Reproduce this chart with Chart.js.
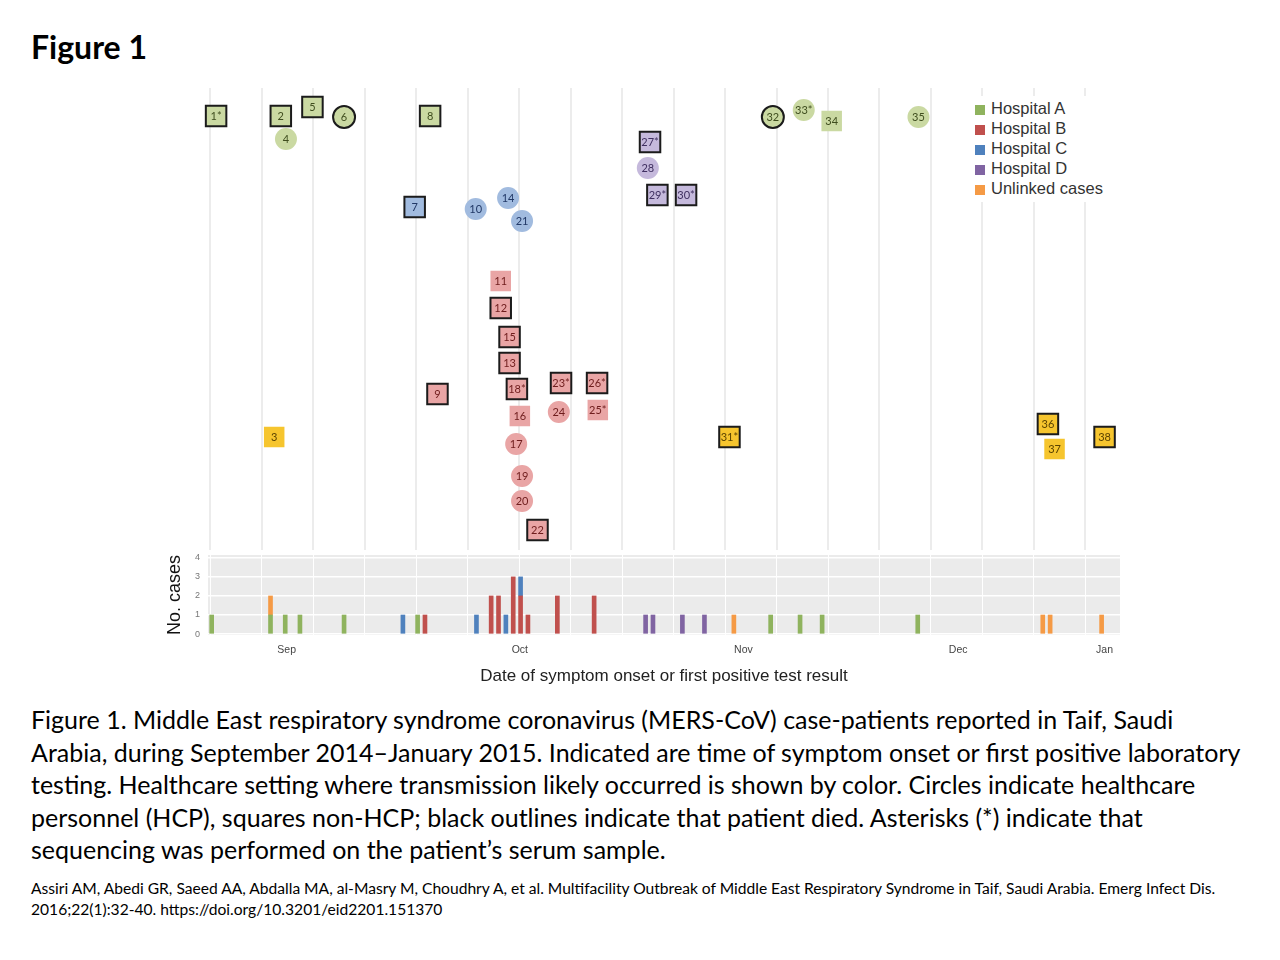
<!DOCTYPE html>
<html>
<head>
<meta charset="utf-8">
<title>Figure 1</title>
<script src="https://cdn.jsdelivr.net/npm/chart.js@4.4.0/dist/chart.umd.min.js"></script>
<style>
  body { margin: 0; width: 1280px; height: 960px; background: #fff; position: relative; overflow: hidden; font-family: Lato, sans-serif; color: #000; }
  #title { position: absolute; left: 31px; top: 27px; font-size: 32px; font-weight: bold; line-height: 40px; }
  #top { position: absolute; left: 150px; top: 88px; }
  #bottom { position: absolute; left: 150px; top: 552px; }
  #legend { position: absolute; left: 966px; top: 96px; background: #fff; padding: 2px 12px 4px 9px; font-family: "Liberation Sans", Arial, sans-serif; font-size: 16.5px; color: #333; }
  #legend div { height: 20px; line-height: 20px; white-space: nowrap; }
  #legend span { display: inline-block; width: 10px; height: 10px; margin-right: 6px; vertical-align: -1px; }
  #caption { position: absolute; left: 31px; top: 703px; font-size: 25px; line-height: 32.6px; white-space: nowrap; }
  #cite { position: absolute; left: 31px; top: 878px; font-size: 15.6px; line-height: 21px; white-space: nowrap; }
</style>
</head>
<body>
<div id="title">Figure 1</div>
<canvas id="top" width="980" height="462"></canvas>
<canvas id="bottom" width="980" height="140"></canvas>
<div id="legend"></div>
<div id="caption">Figure 1. Middle East respiratory syndrome coronavirus (MERS-CoV) case-patients reported in Taif, Saudi<br>Arabia, during September 2014–January 2015. Indicated are time of symptom onset or first positive laboratory<br>testing. Healthcare setting where transmission likely occurred is shown by color. Circles indicate healthcare<br>personnel (HCP), squares non-HCP; black outlines indicate that patient died. Asterisks (*) indicate that<br>sequencing was performed on the patient’s serum sample.</div>
<div id="cite">Assiri AM, Abedi GR, Saeed AA, Abdalla MA, al-Masry M, Choudhry A, et al. Multifacility Outbreak of Middle East Respiratory Syndrome in Taif, Saudi Arabia. Emerg Infect Dis.<br>2016;22(1):32-40. https://doi.org/10.3201/eid2201.151370</div>

<script>
// Groups (transmission setting)
const groups = ['Hospital A', 'Hospital B', 'Hospital C', 'Hospital D', 'Unlinked cases'];
const groupColors = ['#8fb35e', '#c0504d', '#4f81bd', '#8064a2', '#f59a45'];
const markerFills = ['#cad9a2', '#e9a5a5', '#a1bbdf', '#c5b9dc', '#f6c52e'];
const markerInk = ['#3f4d1e', '#6e1c1c', '#213866', '#3f2f60', '#5c4400'];

// Case-patients: x = day on the time axis, level = height in the upper panel
const caseNo    = [1, 2, 3, 4, 5, 6, 7, 8, 9, 10, 11, 12, 13, 14, 15, 16, 17, 18, 19, 20, 21, 22, 23, 24, 25, 26, 27, 28, 29, 30, 31, 32, 33, 34, 35, 36, 37, 38];
const caseGroup = [0, 0, 4, 0, 0, 0, 2, 0, 1, 2, 1, 1, 1, 2, 1, 1, 1, 1, 1, 1, 2, 1, 1, 1, 1, 1, 3, 3, 3, 3, 4, 0, 0, 0, 0, 4, 4, 4];
const caseDay   = [0.6, 9.4, 8.5, 10.1, 13.7, 18.0, 27.6, 29.7, 30.7, 35.9, 39.3, 39.3, 40.5, 40.3, 40.5, 41.9, 41.4, 41.5, 42.2, 42.2, 42.2, 44.3, 47.5, 47.2, 52.5, 52.4, 59.6, 59.3, 60.6, 64.5, 70.4, 76.3, 80.5, 84.3, 96.1, 113.7, 114.6, 121.4];
const caseLevel = [43.4, 43.4, 11.3, 41.1, 44.3, 43.3, 34.3, 43.4, 15.6, 34.1, 26.9, 24.2, 18.7, 35.2, 21.3, 13.4, 10.6, 16.1, 7.4, 4.9, 32.9, 2.0, 16.7, 13.8, 14.0, 16.7, 40.8, 38.2, 35.5, 35.5, 11.3, 43.3, 44.0, 42.9, 43.3, 12.6, 10.1, 11.3];
const caseHcp   = [0, 0, 0, 1, 0, 1, 0, 0, 0, 1, 0, 0, 0, 1, 0, 0, 1, 0, 1, 1, 1, 0, 0, 1, 0, 0, 0, 1, 0, 0, 0, 1, 1, 0, 1, 0, 0, 0];
const caseDied  = [1, 1, 0, 0, 1, 1, 1, 1, 1, 0, 0, 1, 1, 0, 1, 0, 0, 1, 0, 0, 0, 1, 1, 0, 0, 1, 1, 0, 1, 1, 1, 1, 0, 0, 0, 1, 0, 1];
const caseSeq   = [1, 0, 0, 0, 0, 0, 0, 0, 0, 0, 0, 0, 0, 0, 0, 0, 0, 1, 0, 0, 0, 0, 1, 0, 1, 1, 1, 0, 1, 1, 1, 0, 1, 0, 0, 0, 0, 0];

// Daily case counts per group
const barDays = [
    [0, 8, 10, 12, 18, 28, 76, 80, 83, 96],
    [29, 38, 39, 41, 42, 43, 47, 52],
    [26, 36, 40, 42],
    [59, 60, 64, 67],
    [8, 71, 113, 114, 121]
];
const barCounts = [
    [1, 1, 1, 1, 1, 1, 1, 1, 1, 1],
    [1, 2, 2, 3, 2, 1, 2, 2],
    [1, 1, 1, 1],
    [1, 1, 1, 1],
    [1, 1, 1, 1, 1]
];

// Axis ticks
const weekTicks = [-0.2, 6.8, 13.8, 20.8, 27.8, 34.8, 41.8, 48.8, 55.8, 62.8, 69.8, 76.8, 83.8, 90.8, 97.8, 104.8, 111.8, 118.8];
const monthTicks = [10.2, 41.9, 72.3, 101.5, 121.4];
const monthLabels = ['Sep', 'Oct', 'Nov', 'Dec', 'Jan'];
const countTicks = [0, 1, 2, 3, 4];

const xMin = -0.5, xMax = 123.5;
const axisFont = '"Liberation Sans", Arial, sans-serif';

// Legend
const legendEl = document.getElementById('legend');
groups.forEach((g, i) => {
    const row = document.createElement('div');
    row.innerHTML = '<span style="background:' + groupColors[i] + '"></span>' + g;
    legendEl.appendChild(row);
});

// Labels inside the case markers
const caseLabels = {
    id: 'caseLabels',
    afterDatasetsDraw(chart) {
        const ctx = chart.ctx;
        ctx.save();
        ctx.font = '11px Lato, sans-serif';
        ctx.textAlign = 'center';
        ctx.textBaseline = 'middle';
        chart.data.datasets.forEach((ds, i) => {
            ctx.fillStyle = markerInk[i];
            chart.getDatasetMeta(i).data.forEach((pt, j) => {
                ctx.fillText(ds.data[j].label, pt.x, pt.y + 0.5);
            });
        });
        ctx.restore();
    }
};

// Grey panel behind the histogram
const panelBg = {
    id: 'panelBg',
    beforeDraw(chart) {
        const a = chart.chartArea;
        chart.ctx.save();
        chart.ctx.fillStyle = '#ebebeb';
        chart.ctx.fillRect(a.left, a.top, a.right - a.left, a.bottom - a.top);
        chart.ctx.restore();
    }
};

// keep tick labels from pushing the plot area in
function noOverflow(s) {
    s.paddingTop = 0; s.paddingBottom = 0; s.paddingLeft = 0; s.paddingRight = 0;
}

// Upper panel: one marker per case-patient
const caseSets = groups.map((g, gi) => ({
    label: g,
    data: caseNo.map((n, i) => ({
        x: caseDay[i], y: caseLevel[i],
        label: n + (caseSeq[i] ? '*' : ''),
        hcp: caseHcp[i], died: caseDied[i], g: caseGroup[i]
    })).filter(p => p.g === gi),
    pointStyle: ctx => (ctx.raw && ctx.raw.hcp ? 'circle' : 'rect'),
    pointRadius: ctx => (ctx.raw && ctx.raw.hcp ? 11 : 14.5),
    pointBackgroundColor: markerFills[gi],
    pointBorderColor: ctx => (ctx.raw && ctx.raw.died ? '#1b1b1b' : 'rgba(0,0,0,0)'),
    pointBorderWidth: 2,
    clip: false
}));

new Chart(document.getElementById('top'), {
    type: 'scatter',
    data: { datasets: caseSets },
    options: {
        responsive: false,
        animation: false,
        events: [],
        layout: { autoPadding: false, padding: { left: 58, right: 10, top: 0, bottom: 0 } },
        plugins: { legend: { display: false }, tooltip: { enabled: false } },
        scales: {
            x: {
                type: 'linear', min: xMin, max: xMax, offset: false,
                afterBuildTicks: s => { s.ticks = weekTicks.map(v => ({ value: v })); },
                afterFit: s => { s.height = 0; noOverflow(s); },
                ticks: { display: false },
                grid: { color: '#ececec', lineWidth: 2, drawTicks: false },
                border: { display: false }
            },
            y: { display: false, min: 0, max: 46.2 }
        }
    },
    plugins: [caseLabels]
});

// Lower panel: histogram of cases per day
const barSets = groups.map((g, gi) => ({
    label: g,
    data: barDays[gi].map((d, i) => ({ x: d, y: barCounts[gi][i] })),
    backgroundColor: groupColors[gi],
    barThickness: 4
}));

new Chart(document.getElementById('bottom'), {
    type: 'bar',
    data: { datasets: barSets },
    options: {
        responsive: false,
        animation: false,
        events: [],
        layout: { autoPadding: false, padding: { left: 14, right: 10, top: 3, bottom: 5 } },
        plugins: { legend: { display: false }, tooltip: { enabled: false } },
        scales: {
            x: {
                type: 'linear', min: xMin, max: xMax, stacked: true, offset: false,
                afterBuildTicks: s => { s.ticks = weekTicks.map(v => ({ value: v })); },
                afterFit: s => { s.height = 0; noOverflow(s); },
                ticks: { display: false },
                grid: { color: '#ffffff', lineWidth: 1, drawTicks: false, offset: false },
                border: { display: false }
            },
            xm: {
                type: 'linear', axis: 'x', position: 'bottom', min: xMin, max: xMax, offset: false,
                afterBuildTicks: s => { s.ticks = monthTicks.map(v => ({ value: v })); },
                afterFit: s => { s.height = 52; noOverflow(s); },
                ticks: {
                    autoSkip: false, maxRotation: 0, padding: 9,
                    font: { family: axisFont, size: 10.5 }, color: '#444',
                    callback: (v, i) => monthLabels[i]
                },
                grid: { display: false, drawTicks: false, offset: false },
                border: { display: false },
                title: {
                    display: true, text: 'Date of symptom onset or first positive test result',
                    font: { family: axisFont, size: 17 }, color: '#222',
                    padding: { top: 11, bottom: 0 }
                }
            },
            y: {
                stacked: true, min: -0.05, max: 4.15, z: 1,
                afterBuildTicks: s => { s.ticks = countTicks.map(v => ({ value: v })); },
                afterFit: s => { s.width = 44; noOverflow(s); },
                ticks: { padding: 8, font: { family: axisFont, size: 9 }, color: '#777' },
                grid: { color: '#ffffff', lineWidth: 1.5, drawTicks: false },
                border: { display: false },
                title: {
                    display: true, text: 'No. cases',
                    font: { family: axisFont, size: 18 }, color: '#111',
                    padding: { top: 0, bottom: 4 }
                }
            }
        }
    },
    plugins: [panelBg]
});
</script>
</body>
</html>
